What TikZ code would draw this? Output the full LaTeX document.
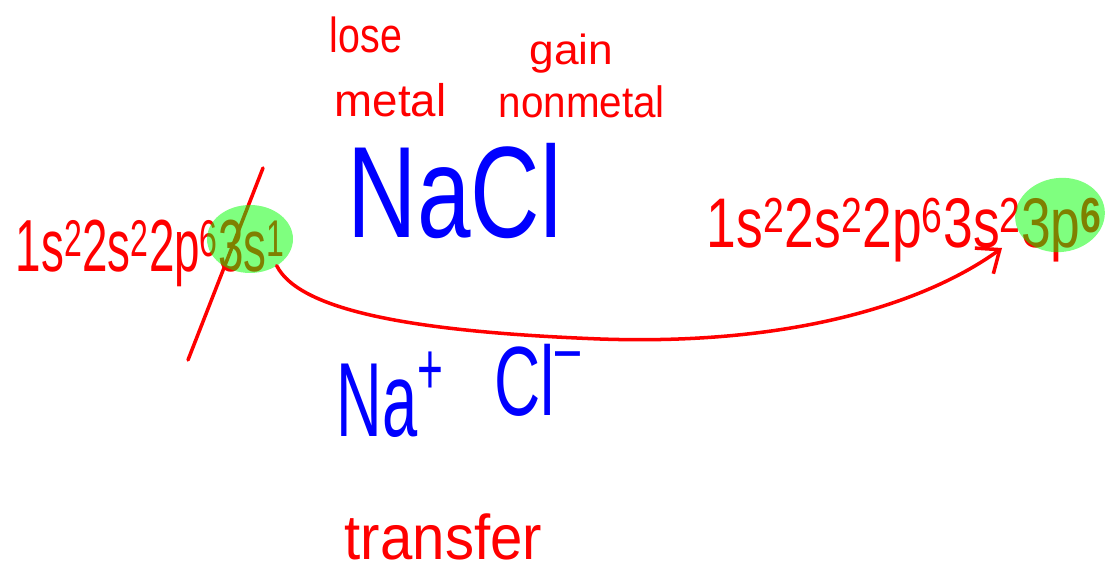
\documentclass[tikz,border=0pt]{standalone}
\usepackage{fontspec}
\setmainfont{Liberation Sans}
\usepackage{graphicx}
\usetikzlibrary{shapes.geometric,arrows.meta}
\tikzset{>={Straight Barb[length=11pt,width=18pt]}}
\tikzset{
  ink/.style={inner sep=0pt,anchor=base west,font=\fontsize{#1}{#1}\selectfont},
  hl/.style={ellipse,fill=green,fill opacity=0.5,inner sep=0pt,outer sep=0pt}
}
\newcommand*{\sq}[2]{\scalebox{#1}[1]{#2}}
\newcommand*{\charge}[2]{\raisebox{#1}{\scalebox{0.7}{#2}}}

\begin{document}
\begin{tikzpicture}[x=0.02cm,y=-0.02cm,line width=2pt,line cap=round]
\useasboundingbox (0,0) rectangle (1113,580);
% Notes above the formula
\node[ink=28,red] (lose) at (328,53) {\sq{0.8}{lose}};
\node[ink=26,red] (metal) at (333,117) {\sq{1.0}{metal}};
\node[ink=24,red] (gain) at (528,65) {\sq{1.05}{gain}};
\node[ink=25,red] (nonmetal) at (497,118) {\sq{0.92}{nonmetal}};

% Formula and ions
\node[ink=74,blue] (nacl) at (346,238) {\sq{0.74}{NaCl}};
\node[ink=60,blue] (na) at (335,437) {\sq{0.6}{Na\charge{0.4em}{+}}};
\node[ink=56,blue] (cl) at (493,416) {\sq{0.65}{Cl\charge{0.45em}{–}}};
\node[ink=36,red] (transfer) at (343,560) {\sq{0.92}{transfer}};

% Electron configurations
\node[ink=42,red] (naconf) at (14,272) {\sq{0.62}{1s\textsuperscript{2}2s\textsuperscript{2}2p\textsuperscript{6}3s\textsuperscript{1}}};
\node[ink=40,red] (clconf) at (705,248) {\sq{0.76}{1s\textsuperscript{2}2s\textsuperscript{2}2p\textsuperscript{6}3s\textsuperscript{2}3p\textsuperscript{\textbf{6}}}};

% Cross out the 3s electron
\coordinate (slashtop) at (263,168);
\coordinate (slashbot) at (188,360);
\draw[red] (slashtop) -- (slashbot);

% Highlight outer shells
\node[hl,minimum width=1.72cm,minimum height=1.36cm] (hlna) at (250,239) {};
\node[hl,minimum width=1.8cm,minimum height=1.48cm,rotate=8] (hlcl) at (1060,215) {};

% Transfer arrow
\coordinate (tip) at (1002,248);
\draw[red,->] (hlna.-45) .. controls (300,312) and (420,332) .. (600,339)
  .. controls (800,346) and (930,300) .. (tip);
\end{tikzpicture}
\end{document}
